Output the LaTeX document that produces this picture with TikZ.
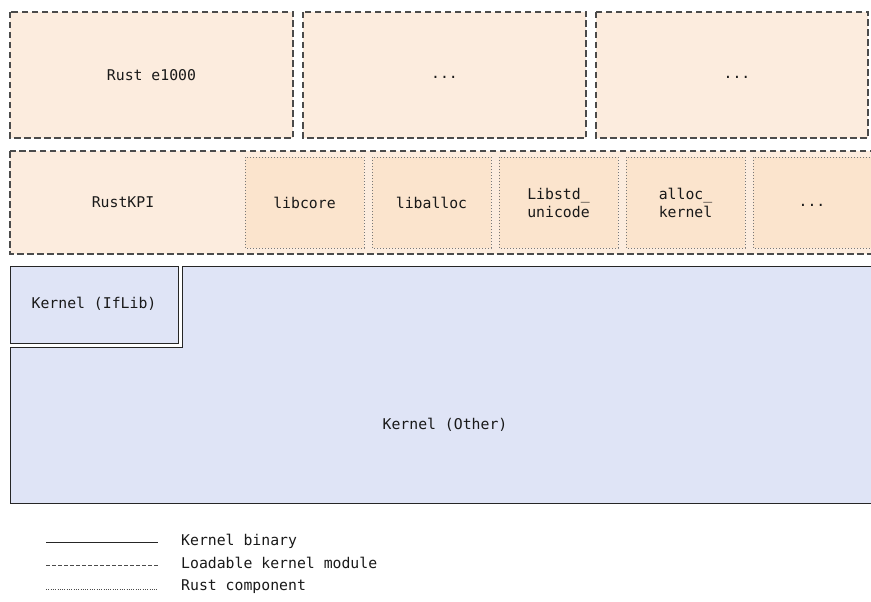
\documentclass[tikz,border=0pt]{standalone}
\usepackage{fontspec}
\setmonofont{DejaVu Sans Mono}
\definecolor{peach}{RGB}{252,236,222}
\definecolor{peachdark}{RGB}{251,228,205}
\definecolor{kblue}{RGB}{223,228,246}
\definecolor{edge}{RGB}{75,75,75}
\newcommand{\us}{\symbol{95}}
\newcommand{\dotsrow}{\vphantom{Ag}...}
\begin{document}
\begin{tikzpicture}[x=1pt,y=-1pt,
  lbl/.style={font=\ttfamily\fontsize{14.8}{18}\selectfont, text=black!90, align=center, inner sep=0pt},
  modbox/.style={draw=edge, line width=1.1pt, dash pattern=on 6.5pt off 3.5pt, fill=peach},
  rustbox/.style={draw=edge!75, line width=0.9pt, dash pattern=on 1pt off 2pt, fill=peachdark},
  kernbox/.style={draw=black!85, line width=1pt, fill=kblue}]
\useasboundingbox (0,0) rectangle (871,602);
\begin{scope}
\clip (0,0) rectangle (871,602);

% loadable modules
\draw[modbox] (10,12) rectangle (293,138);
\draw[modbox] (303,12) rectangle (586,138);
\draw[modbox] (596,12) rectangle (868,138);
\node[lbl] (e1000) at (151.5,75) {Rust e1000};
\node[lbl] (mod2) at (444.5,75) {\dotsrow};
\node[lbl] (mod3) at (737,75) {\dotsrow};

% RustKPI module with its Rust components
\draw[modbox] (10,151) rectangle (880,254);
\node[lbl] (kpi) at (123,202) {RustKPI};
\draw[rustbox] (245,157) rectangle (364,248);
\draw[rustbox] (372,157) rectangle (491,248);
\draw[rustbox] (499,157) rectangle (618,248);
\draw[rustbox] (626,157) rectangle (745,248);
\draw[rustbox] (753,157) rectangle (890,248);
\node[lbl] (libcore) at (304.5,203) {libcore};
\node[lbl] (liballoc) at (431.5,203) {liballoc};
\node[lbl] (libstd) at (558.5,203) {Libstd\us\\unicode};
\node[lbl] (allock) at (685.5,203) {alloc\us\\kernel};
\node[lbl] (more) at (812,203) {\dotsrow};

% kernel binary
\draw[kernbox] (10,266) rectangle (178,343);
\node[lbl] (iflib) at (94,304) {Kernel (IfLib)};
\draw[kernbox] (182,266) -- (880,266) -- (880,503) -- (10,503) -- (10,347) -- (182,347) -- cycle;
\node[lbl] (other) at (445,425) {Kernel (Other)};
\end{scope}

% legend
\coordinate (ls1) at (46,542); \coordinate (le1) at (158,542);
\coordinate (ls2) at (46,565); \coordinate (le2) at (158,565);
\coordinate (ls3) at (46,589); \coordinate (le3) at (158,589);
\draw[black!85, line width=0.9pt] (ls1) -- (le1);
\draw[edge, line width=0.9pt, dash pattern=on 4pt off 2pt] (ls2) -- (le2);
\draw[edge, line width=0.7pt, dash pattern=on 0.7pt off 1.6pt] (ls3) -- (le3);
\node[lbl, anchor=west] (lg1) at (181,541) {Kernel binary};
\node[lbl, anchor=west] (lg2) at (181,563) {Loadable kernel module};
\node[lbl, anchor=west] (lg3) at (181,587) {Rust component};
\end{tikzpicture}
\end{document}
